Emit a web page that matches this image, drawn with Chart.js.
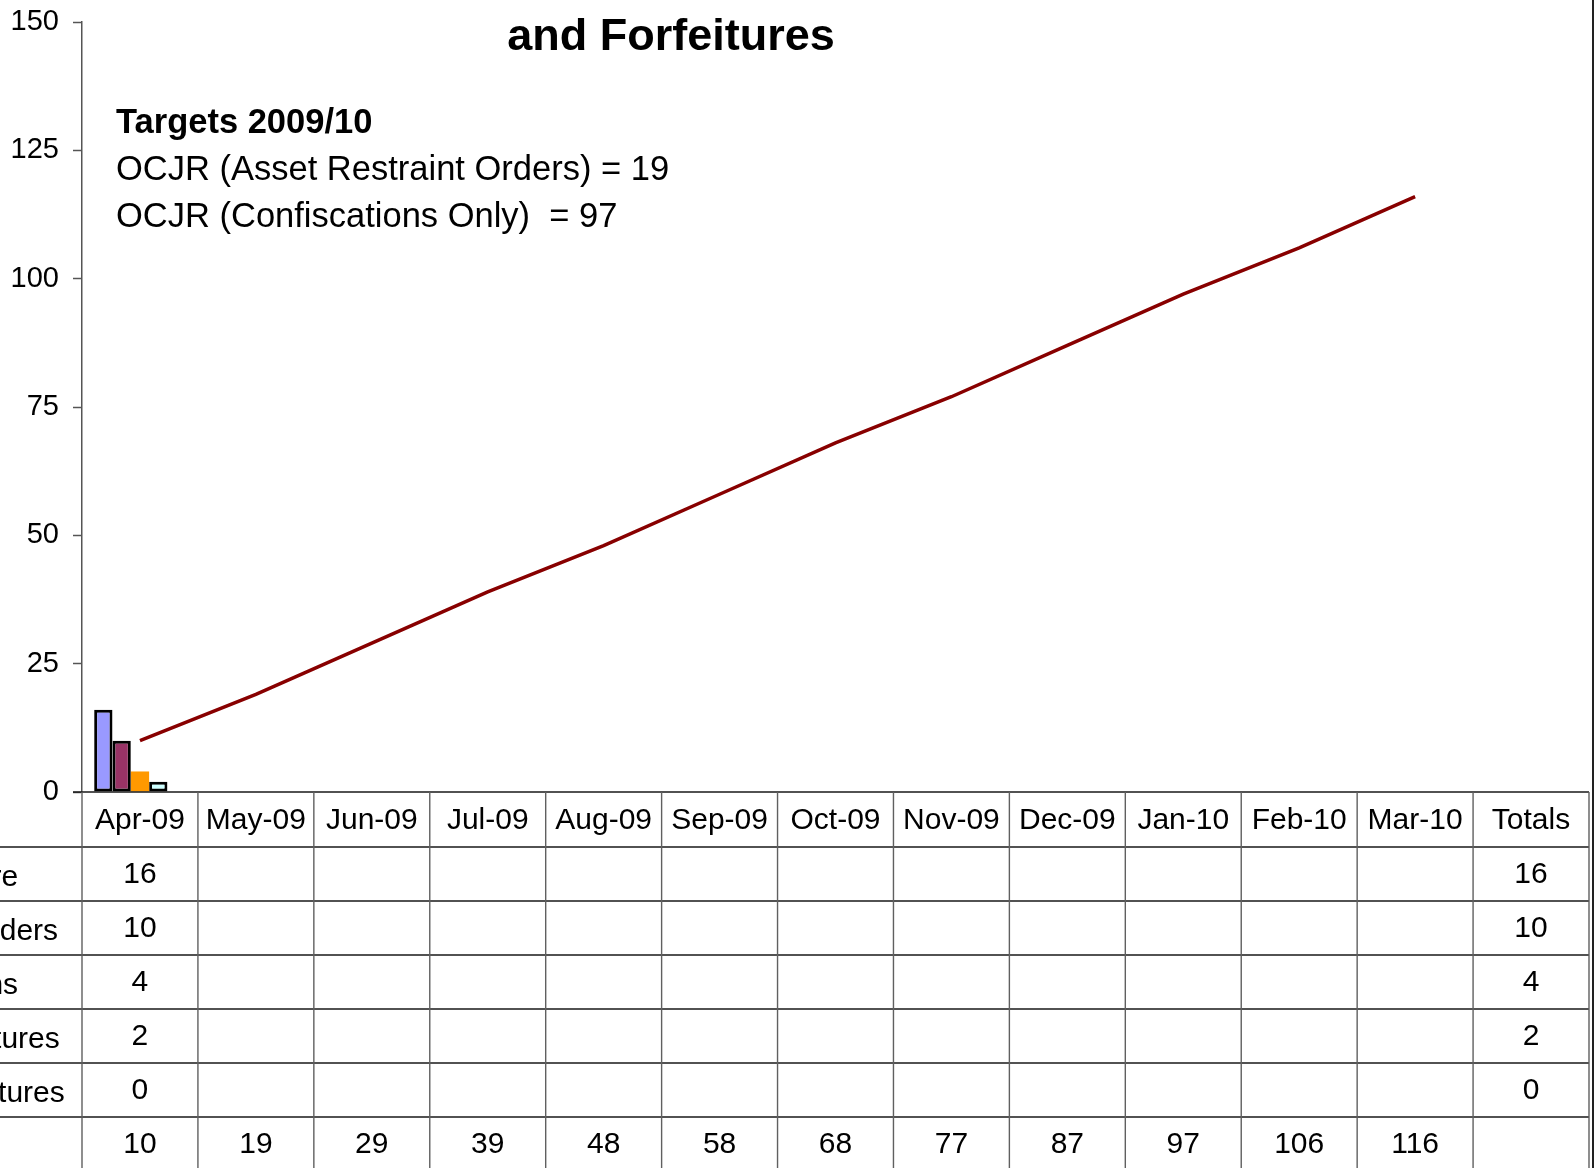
<!DOCTYPE html>
<html>
<head>
<meta charset="utf-8">
<title>Restraint Orders, Confiscations and Forfeitures</title>
<script src="https://cdn.jsdelivr.net/npm/chart.js@4.4.0/dist/chart.umd.min.js"></script>
<style>
    html, body { margin: 0; padding: 0; background: #fff; overflow: hidden; }
    #chart { display: block; }
</style>
</head>
<body>
<canvas id="chart" width="1595" height="1168"></canvas>
<script>
// Months across the data table, plus the totals column
const months = ['Apr-09', 'May-09', 'Jun-09', 'Jul-09', 'Aug-09', 'Sep-09',
                'Oct-09', 'Nov-09', 'Dec-09', 'Jan-10', 'Feb-10', 'Mar-10'];
const columns = months.concat(['Totals']);

// Monthly counts (only April reported so far)
const seriesNames = ['Cash Seizure', 'Restraint Orders', 'Confiscations', 'Cash Forfeitures', 'Other Forfeitures'];
const cashSeizure = [16];
const restraintOrders = [10];
const confiscations = [4];
const cashForfeitures = [2];
const otherForfeitures = [0];

// Cumulative OCJR target (19 + 97 over the year)
const targetName = 'Target';
const targetLine = [10, 19, 29, 39, 48, 58, 68, 77, 87, 97, 106, 116];

const yMin = 0;
const yMax = 150;
const yStep = 25;

const titleText = 'and Forfeitures';
const notes = ['Targets 2009/10', 'OCJR (Asset Restraint Orders) = 19', 'OCJR (Confiscations Only)  = 97'];

const FONT = '"Liberation Sans", Arial, Helvetica, sans-serif';
Chart.defaults.font.family = FONT;

// stretch a month series over all table columns
const fill = arr => columns.map((c, i) => (i < arr.length ? arr[i] : null));
const total = arr => arr.reduce((s, v) => s + (v || 0), 0);

const barSeries = [cashSeizure, restraintOrders, confiscations, cashForfeitures, otherForfeitures];
const barColors = ['#9999FF', '#993366', '#FF9900', '#CCFFFF', '#FFFF99'];
const barBorders = [3, 3, 0, 3, 3];

const datasets = barSeries.map((values, i) => ({
    type: 'bar',
    label: seriesNames[i],
    data: fill(values),
    backgroundColor: barColors[i],
    borderColor: '#000',
    borderWidth: barBorders[i],
    borderSkipped: false,
    categoryPercentage: 0.79,
    barPercentage: 1.0,
    order: 1
}));

datasets.push({
    type: 'line',
    label: targetName,
    data: fill(targetLine),
    borderColor: '#880000',
    borderWidth: 3.5,
    pointRadius: 0,
    pointHoverRadius: 0,
    tension: 0,
    fill: false,
    order: 0
});

// rows shown under the plot: one per series
const tableRows = barSeries.map((values, i) => ({
    label: seriesNames[i],
    cells: months.map((m, j) => (j < values.length ? values[j] : '')).concat([total(values)])
}));
tableRows.push({
    label: targetName,
    cells: months.map((m, j) => targetLine[j]).concat([''])
});

const HEAD_H = 55;
const ROW_H = 54;

const dataTable = {
    id: 'dataTable',
    afterDraw(chart) {
        const { ctx, chartArea } = chart;
        const x = chart.scales.x;
        const colW = (chartArea.right - chartArea.left) / columns.length;
        const top = chartArea.bottom;
        const bottom = chart.height;

        ctx.save();

        // horizontal rules
        ctx.strokeStyle = '#1a1a1a';
        ctx.lineWidth = 1.4;
        ctx.beginPath();
        ctx.moveTo(chartArea.left - 9, top);
        ctx.lineTo(chartArea.right, top);
        for (let r = 0; r < tableRows.length; r++) {
            const y = top + HEAD_H + r * ROW_H;
            ctx.moveTo(0, y);
            ctx.lineTo(chartArea.right, y);
        }
        ctx.stroke();

        // vertical rules
        ctx.strokeStyle = '#606060';
        ctx.lineWidth = 1.4;
        ctx.beginPath();
        for (let c = 0; c <= columns.length; c++) {
            const xx = chartArea.left + c * colW;
            ctx.moveTo(xx, top);
            ctx.lineTo(xx, bottom);
        }
        ctx.stroke();

        // outer frame on the right
        ctx.strokeStyle = '#222';
        ctx.lineWidth = 2;
        ctx.beginPath();
        ctx.moveTo(chartArea.right + 4, 0);
        ctx.lineTo(chartArea.right + 4, bottom);
        ctx.stroke();

        // header and cell text
        ctx.fillStyle = '#000';
        ctx.font = '30px ' + FONT;
        ctx.textBaseline = 'middle';
        ctx.textAlign = 'center';
        columns.forEach((c, i) => ctx.fillText(c, x.getPixelForValue(i), top + HEAD_H / 2 + 1));

        const labelX = chartArea.left - 244;
        tableRows.forEach((row, r) => {
            const cy = top + HEAD_H + r * ROW_H + ROW_H / 2 + 1;
            ctx.textAlign = 'center';
            row.cells.forEach((v, i) => {
                if (v !== '' && v !== null) ctx.fillText(String(v), x.getPixelForValue(i), cy);
            });
            ctx.textAlign = 'left';
            ctx.fillText(row.label, labelX, cy + 3);
        });

        // title, centred on the whole chart frame
        const frameLeft = chartArea.left - 333;
        const frameRight = chartArea.right + 4;
        ctx.textAlign = 'center';
        ctx.font = 'bold 45px ' + FONT;
        ctx.fillText(titleText, (frameLeft + frameRight) / 2, 38);

        // target notes
        ctx.textAlign = 'left';
        notes.forEach((line, i) => {
            ctx.font = (i === 0 ? 'bold ' : '') + '34.5px ' + FONT;
            ctx.fillText(line, chartArea.left + 34, 123 + i * 47);
        });

        ctx.restore();
    }
};

new Chart(document.getElementById('chart'), {
    type: 'bar',
    data: { labels: columns, datasets: datasets },
    options: {
        responsive: false,
        animation: false,
        layout: { autoPadding: false, padding: { top: 22, right: 6, bottom: 376, left: 0 } },
        plugins: {
            legend: { display: false },
            tooltip: { enabled: false },
            title: { display: false }
        },
        scales: {
            x: { display: false, offset: true },
            y: {
                min: yMin,
                max: yMax,
                ticks: {
                    stepSize: yStep,
                    color: '#000',
                    font: { size: 29 },
                    padding: 14
                },
                grid: {
                    drawOnChartArea: false,
                    drawTicks: true,
                    tickLength: 9,
                    tickColor: '#555',
                    tickWidth: 1.5
                },
                border: { display: true, color: '#555', width: 1.5 },
                afterFit(scale) {
                    scale.width = 82;
                    scale.paddingTop = 0;
                    scale.paddingBottom = 0;
                }
            }
        }
    },
    plugins: [dataTable]
});
</script>
</body>
</html>
